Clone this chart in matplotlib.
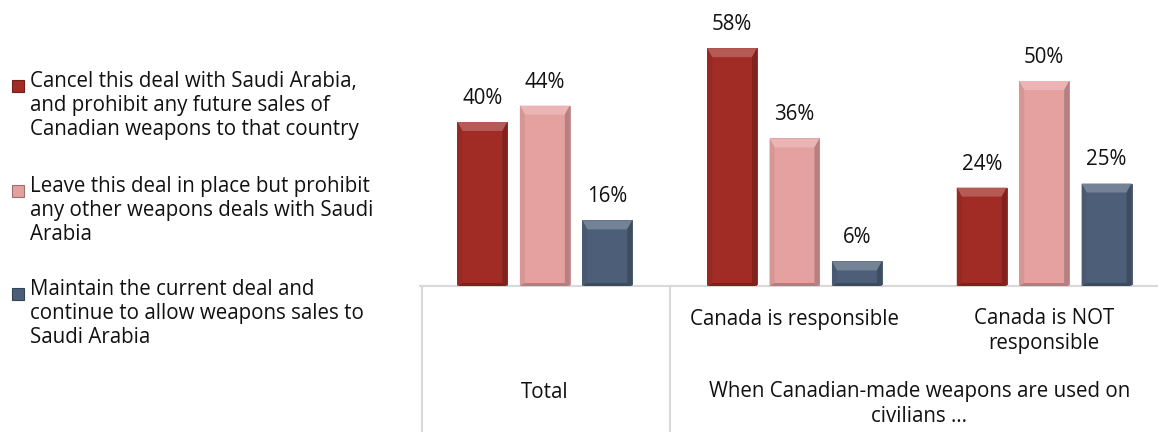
import numpy as np
import matplotlib
matplotlib.use("Agg")
import matplotlib.pyplot as plt
from matplotlib.patches import Polygon, Rectangle
import matplotlib.colors as mcolors

plt.rcParams['font.family'] = ['Open Sans', 'DejaVu Sans']

# survey results (% of respondents)
groups = ["Total", "Canada is responsible", "Canada is NOT\nresponsible"]
cancel_deal = [40, 58, 24]
leave_deal = [44, 36, 50]
maintain_deal = [16, 6, 25]

series_names = [
    "Cancel this deal with Saudi Arabia,\nand prohibit any future sales of\nCanadian weapons to that country",
    "Leave this deal in place but prohibit\nany other weapons deals with Saudi\nArabia",
    "Maintain the current deal and\ncontinue to allow weapons sales to\nSaudi Arabia",
]
outer_labels = ["Total", "When Canadian-made weapons are used on\ncivilians \u2026"]

colors = ["#A12B25", "#E5A0A0", "#4D5F78"]

W, H = 1158, 432
fig = plt.figure(figsize=(W / 100, H / 100), dpi=100)

base_px = 286            # baseline, pixels from top
px_per_pct = 4.1
ytop = 68
left_px, right_px = 420, 1169
ax = fig.add_axes([left_px / W, (H - base_px) / H,
                   (right_px - left_px) / W, ytop * px_per_pct / H])
ax.set_xlim(-0.5, 2.5)
ax.set_ylim(0, ytop)
ax.axis("off")

px_x = (right_px - left_px) / 3.0   # pixels per category unit
x = np.arange(len(groups))
width, step = 0.2, 0.25
all_series = [cancel_deal, leave_deal, maintain_deal]
fs = 14.8
ls = 1.2


def shade(c, f):
    r = np.array(mcolors.to_rgb(c))
    if f > 0:
        r = r + (1 - r) * f
    else:
        r = r * (1 + f)
    return np.clip(r, 0, 1)


for i, (vals, col) in enumerate(zip(all_series, colors)):
    bars = ax.bar(x + (i - 1) * step, vals, width, color=col,
                  edgecolor=shade(col, -0.15), linewidth=0.6, zorder=2)
    for b, v in zip(bars, vals):
        x0, x1 = b.get_x(), b.get_x() + b.get_width()
        y1 = b.get_height()
        s = 5 / px_x
        t = min(9 / px_per_pct, y1 / 2)
        bt = 3 / px_per_pct
        # bevel faces
        ax.add_patch(Polygon([(x0, y1), (x1, y1), (x1 - s, y1 - t), (x0 + s, y1 - t)],
                             closed=True, color=shade(col, 0.22), lw=0, zorder=3))
        ax.add_patch(Polygon([(x0, 0), (x0, y1), (x0 + s, y1 - t), (x0 + s, bt)],
                             closed=True, color=shade(col, -0.06), lw=0, zorder=3))
        ax.add_patch(Polygon([(x1, 0), (x1, y1), (x1 - s, y1 - t), (x1 - s, bt)],
                             closed=True, color=shade(col, -0.2), lw=0, zorder=3))
        ax.add_patch(Polygon([(x0, 0), (x1, 0), (x1 - s, bt), (x0 + s, bt)],
                             closed=True, color=shade(col, -0.22), lw=0, zorder=3))
        ax.annotate(f"{v}%", (b.get_x() + b.get_width() / 2, v),
                    xytext=(0, 13), textcoords="offset points",
                    ha="center", va="baseline", fontsize=fs, color="#111111",
                    annotation_clip=False)

# category table under the bars
ax_h = ytop * px_per_pct


def ay(ypx):
    return (base_px - ypx) / ax_h


line_kw = dict(color="#D9D9D9", lw=1.5, clip_on=False, transform=ax.get_xaxis_transform())
ax.plot([-0.5, 2.5], [0, 0], **line_kw)
ax.plot([-0.5 + 2 / px_x, -0.5 + 2 / px_x], [0, ay(H + 2)], **line_kw)
ax.plot([0.5, 0.5], [0, ay(H + 2)], **line_kw)

txt_kw = dict(transform=ax.get_xaxis_transform(), ha="center", va="center",
              fontsize=fs, color="#111111", clip_on=False, linespacing=ls)
ax.text(1, ay(320), groups[1], **txt_kw)
ax.text(2, ay(331), groups[2], **txt_kw)
ax.text(0, ay(393), outer_labels[0], **txt_kw)
ax.text(1.5, ay(404), outer_labels[1], **txt_kw)

# legend on the left
legend_y = [84, 189, 292]
for name, col, ly in zip(series_names, colors, legend_y):
    fig.patches.append(Rectangle((12 / W, (H - ly - 8) / H), 12 / W, 12 / H,
                                 transform=fig.transFigure, facecolor=col,
                                 edgecolor=shade(col, -0.3), lw=0.8))
    fig.text(30 / W, (H - ly + 13) / H, name, ha="left", va="top",
             fontsize=fs, color="#111111", linespacing=ls)

fig.savefig("out.png", dpi=100)
